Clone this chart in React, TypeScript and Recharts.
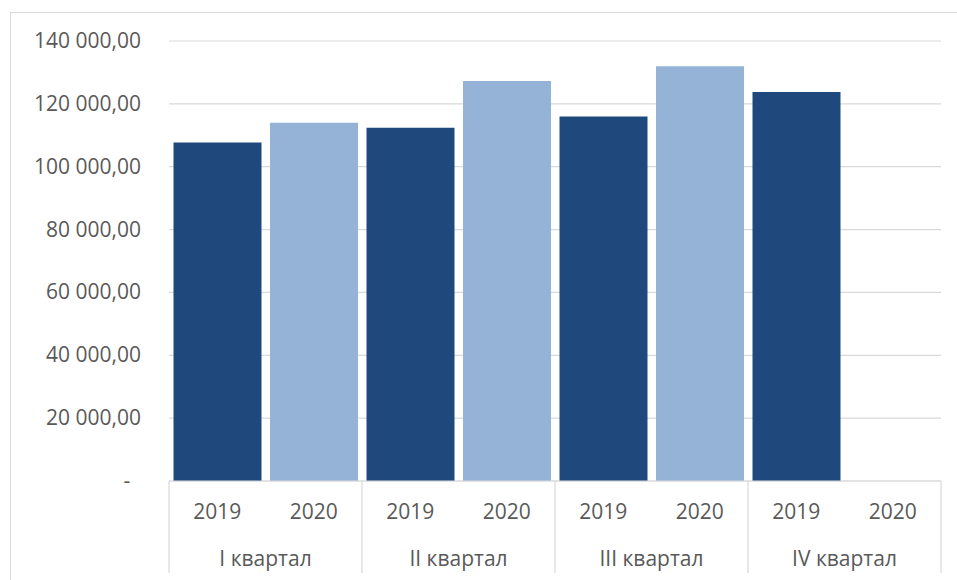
import { BarChart, Bar, Cell, XAxis, YAxis, CartesianGrid } from "recharts";

const quarters = ["I квартал", "II квартал", "III квартал", "IV квартал"];
const years = ["2019", "2020"];
const values2019 = [107700, 112400, 116000, 123800];
const values2020: (number | null)[] = [114000, 127300, 132000, null];
const yTicks = [0, 20000, 40000, 60000, 80000, 100000, 120000, 140000];

const data = quarters.flatMap((q, i) => [
  { quarter: q, year: years[0], key: `${q}-${years[0]}`, value: values2019[i] },
  { quarter: q, year: years[1], key: `${q}-${years[1]}`, value: values2020[i] },
]);

const W = 957;
const H = 580;
const PLOT_LEFT = 169;
const PLOT_RIGHT = 941;
const PLOT_TOP = 41;
const PLOT_BOTTOM = 481;
const CAT_W = (PLOT_RIGHT - PLOT_LEFT) / data.length;

const FONT = "'Open Sans', sans-serif";
const FS = 21;
const TEXT = "#595959";
const GRID = "#d9d9d9";
const colors: Record<string, string> = { "2019": "#1f497d", "2020": "#95b3d7" };

const fmt = (v: number) => {
  const s = Math.round(v).toString().replace(/\B(?=(\d{3})+(?!\d))/g, " ");
  return `${s},00`;
};

function YTick(props: any) {
  const { x, y, payload } = props;
  if (payload.value === 0) {
    return (
      <text x={x - 14} y={y} dy={7} textAnchor="middle" fill={TEXT} fontSize={FS} fontFamily={FONT}>
        -
      </text>
    );
  }
  return (
    <text x={x} y={y} dy={7} textAnchor="end" fill={TEXT} fontSize={FS} fontFamily={FONT}>
      {fmt(payload.value)}
    </text>
  );
}

function XTick(props: any) {
  const { x, y, index } = props;
  const row = data[index];
  if (!row) return null;
  const sepBottom = 573;
  return (
    <g>
      <text x={x} y={y + 31} dy={7} textAnchor="middle" fill={TEXT} fontSize={FS} fontFamily={FONT}>
        {row.year}
      </text>
      {index === 0 && (
        <line x1={x - CAT_W / 2} x2={x - CAT_W / 2} y1={y} y2={sepBottom} stroke={GRID} strokeWidth={1.2} />
      )}
      {index % 2 === 1 && (
        <>
          <line x1={x + CAT_W / 2} x2={x + CAT_W / 2} y1={y} y2={sepBottom} stroke={GRID} strokeWidth={1.2} />
          <text x={x - CAT_W / 2} y={y + 78} dy={7} textAnchor="middle" fill={TEXT} fontSize={FS} fontFamily={FONT}>
            {row.quarter}
          </text>
        </>
      )}
    </g>
  );
}

export default function App() {
  return (
    <div style={{ position: "absolute", left: 0, top: 0, width: W, height: H, overflow: "hidden", background: "#fff" }}>
      <div
        style={{
          position: "absolute",
          left: 10,
          top: 12,
          width: W,
          height: H,
          borderLeft: `1px solid ${GRID}`,
          borderTop: `1px solid ${GRID}`,
        }}
      />
      <div style={{ position: "absolute", left: 0, top: 0 }}>
        <BarChart
          width={W}
          height={H}
          data={data}
          margin={{ top: PLOT_TOP, right: W - PLOT_RIGHT, bottom: 0, left: 0 }}
          barCategoryGap={4.5}
        >
          <CartesianGrid vertical={false} stroke={GRID} strokeWidth={1.2} />
          <XAxis
            dataKey="key"
            interval={0}
            height={H - PLOT_BOTTOM}
            tickLine={false}
            tickSize={0}
            tickMargin={0}
            axisLine={{ stroke: GRID, strokeWidth: 1.2 }}
            tick={<XTick />}
          />
          <YAxis
            width={PLOT_LEFT}
            domain={[0, 140000]}
            ticks={yTicks}
            axisLine={false}
            tickLine={false}
            tickSize={0}
            tickMargin={28}
            tick={<YTick />}
          />
          <Bar dataKey="value" isAnimationActive={false}>
            {data.map((d) => (
              <Cell key={d.key} fill={colors[d.year]} />
            ))}
          </Bar>
        </BarChart>
      </div>
    </div>
  );
}
